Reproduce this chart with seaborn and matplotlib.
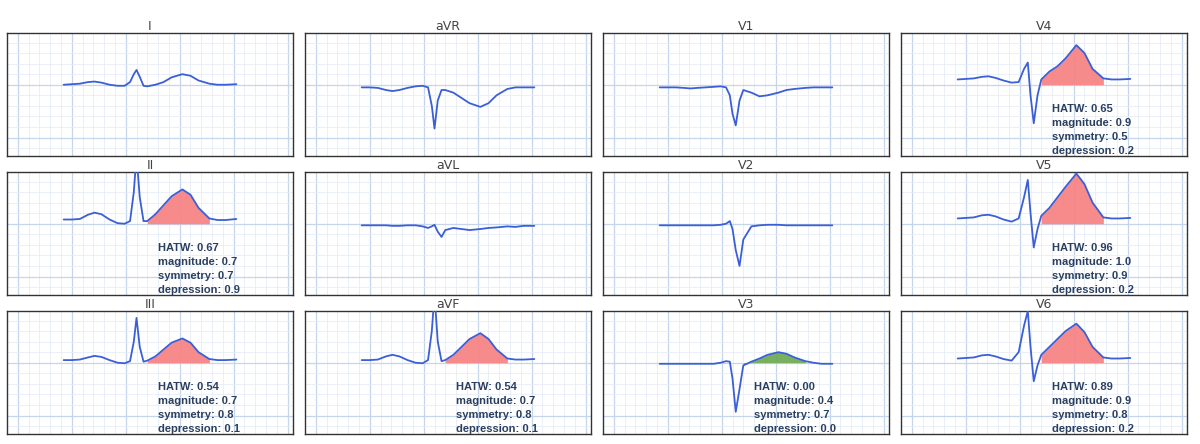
import numpy as np
import pandas as pd
import matplotlib
matplotlib.use('Agg')
import matplotlib.pyplot as plt
import seaborn as sns

sns.set_style('white')

# shared time axis (arbitrary units) and per-lead amplitudes
t = [0.85, 1.0, 1.15, 1.3, 1.42, 1.55, 1.7, 1.85, 1.98, 2.08, 2.15, 2.2, 2.26,
     2.33, 2.4, 2.55, 2.7, 2.85, 3.05, 3.2, 3.35, 3.55, 3.7, 3.85, 4.05]

lead_I = [0, 0.01, 0.02, 0.05, 0.06, 0.04, 0.0, -0.02, -0.02, 0.05, 0.2, 0.28, 0.15,
          -0.02, -0.03, 0.0, 0.05, 0.14, 0.2, 0.17, 0.08, 0.02, 0.0, 0.0, 0.01]
lead_II = [0.08, 0.08, 0.09, 0.17, 0.21, 0.18, 0.08, 0.01, 0.0, 0.05, 0.6, 1.3, 0.5,
           0.05, 0.05, 0.18, 0.35, 0.52, 0.65, 0.55, 0.3, 0.1, 0.07, 0.07, 0.09]
lead_III = [0.05, 0.05, 0.06, 0.1, 0.13, 0.11, 0.05, 0.0, -0.01, 0.03, 0.4, 0.85, 0.3,
            0.02, 0.04, 0.12, 0.25, 0.38, 0.46, 0.38, 0.2, 0.07, 0.05, 0.05, 0.06]
lead_aVR = [-0.05, -0.05, -0.06, -0.1, -0.12, -0.1, -0.06, -0.03, -0.02, -0.05, -0.4, -0.83, -0.3,
            -0.1, -0.1, -0.15, -0.25, -0.35, -0.42, -0.35, -0.2, -0.08, -0.05, -0.05, -0.05]
lead_aVL = [-0.03, -0.03, -0.03, -0.03, -0.04, -0.04, -0.03, -0.03, -0.05, -0.08, -0.05, -0.02, -0.15,
            -0.25, -0.12, -0.08, -0.1, -0.12, -0.1, -0.08, -0.07, -0.05, -0.06, -0.04, -0.04]
lead_aVF = [0.05, 0.05, 0.06, 0.12, 0.15, 0.12, 0.05, 0.0, -0.01, 0.05, 0.6, 1.3, 0.4,
            0.03, 0.05, 0.15, 0.3, 0.45, 0.56, 0.45, 0.25, 0.08, 0.06, 0.06, 0.07]
lead_V1 = [-0.05, -0.05, -0.05, -0.06, -0.07, -0.06, -0.05, -0.04, -0.03, -0.05, -0.2, -0.55, -0.77,
           -0.3, -0.1, -0.15, -0.22, -0.2, -0.15, -0.1, -0.08, -0.06, -0.05, -0.05, -0.05]
lead_V2 = [-0.03, -0.03, -0.03, -0.03, -0.03, -0.03, -0.03, -0.03, -0.02, 0.0, 0.05, -0.1, -0.5,
           -0.8, -0.3, -0.05, -0.03, -0.02, -0.02, -0.03, -0.03, -0.03, -0.03, -0.03, -0.03]
lead_V3 = [-0.02, -0.02, -0.02, -0.02, -0.02, -0.02, -0.02, -0.02, 0.0, 0.03, 0.02, -0.3, -0.93,
           -0.5, -0.05, 0.02, 0.08, 0.15, 0.2, 0.17, 0.1, 0.03, 0.0, -0.02, -0.02]
lead_V4 = [0.1, 0.11, 0.12, 0.15, 0.16, 0.13, 0.08, 0.04, 0.05, 0.3, 0.42, -0.2, -0.73,
           -0.2, 0.1, 0.25, 0.35, 0.5, 0.75, 0.6, 0.3, 0.12, 0.1, 0.1, 0.11]
lead_V5 = [0.1, 0.11, 0.12, 0.16, 0.17, 0.14, 0.08, 0.04, 0.1, 0.5, 0.83, 0.2, -0.45,
           -0.1, 0.15, 0.3, 0.5, 0.7, 0.95, 0.75, 0.4, 0.12, 0.1, 0.1, 0.11]
lead_V6 = [0.08, 0.09, 0.1, 0.14, 0.15, 0.12, 0.07, 0.04, 0.2, 0.7, 0.98, 0.3, -0.35,
           -0.05, 0.15, 0.3, 0.45, 0.6, 0.74, 0.58, 0.3, 0.1, 0.08, 0.08, 0.09]

# grid layout: column-major like the reference
lead_names = ['I', 'II', 'III', 'aVR', 'aVL', 'aVF', 'V1', 'V2', 'V3', 'V4', 'V5', 'V6']
lead_data = [lead_I, lead_II, lead_III, lead_aVR, lead_aVL, lead_aVF,
             lead_V1, lead_V2, lead_V3, lead_V4, lead_V5, lead_V6]

# T-wave scores: lead -> (HATW, magnitude, symmetry, depression)
scores = {
    'II': (0.67, 0.7, 0.7, 0.9),
    'III': (0.54, 0.7, 0.8, 0.1),
    'aVF': (0.54, 0.7, 0.8, 0.1),
    'V3': (0.00, 0.4, 0.7, 0.0),
    'V4': (0.65, 0.9, 0.5, 0.2),
    'V5': (0.96, 1.0, 0.9, 0.2),
    'V6': (0.89, 0.9, 0.8, 0.2),
}
t_start, t_end = 14, 21  # indices of T-wave window

W, H = 1200, 444
fig = plt.figure(figsize=(W / 100, H / 100), dpi=100)
col_left = [7, 305, 603, 901]
row_top = [33, 172, 311]
pw, ph = 286, 123

for i, (name, y) in enumerate(zip(lead_names, lead_data)):
    col, row = i // 3, i % 3
    ax = fig.add_axes([col_left[col] / W, 1 - (row_top[row] + ph) / H, pw / W, ph / H])
    df = pd.DataFrame({'t': t, 'v': y})
    if name in scores:
        s = scores[name]
        seg = df.iloc[t_start:t_end + 1]
        color = '#6aa84f' if s[0] < 0.5 else '#f77f7f'
        ax.fill_between(seg['t'], 0, seg['v'], color=color, alpha=0.9, lw=0, zorder=2)
        txt = (f"HATW: {s[0]:.2f}\nmagnitude: {s[1]:.1f}\n"
               f"symmetry: {s[2]:.1f}\ndepression: {s[3]:.1f}")
        ax.text(2.6, -0.36, txt, fontsize=8, fontweight='bold', color='#2a3f5f',
                family='Liberation Sans', va='top', ha='left', linespacing=1.5, zorder=4)
    sns.lineplot(data=df, x='t', y='v', ax=ax, color='#3a5fd6', lw=1.3, zorder=3)
    ax.set_xlim(-0.2, 5.1)
    ax.set_ylim(-1.35, 0.98)
    ax.set_xticks(np.arange(0, 5.1, 1))
    ax.set_xticks(np.arange(-0.2, 5.1, 0.2), minor=True)
    ax.set_yticks(np.arange(-1, 1, 1))
    ax.set_yticks(np.arange(-1.2, 1.0, 0.2), minor=True)
    ax.grid(which='major', color='#c5d6ec', lw=0.9)
    ax.grid(which='minor', color='#e6edf7', lw=0.6)
    ax.tick_params(which='both', length=0, labelbottom=False, labelleft=False)
    ax.set_xlabel('')
    ax.set_ylabel('')
    for sp in ax.spines.values():
        sp.set_color('#333333')
        sp.set_linewidth(1)
    ax.set_title(name, fontsize=9, color='#444444', pad=2)

fig.savefig('out.png', dpi=100)
